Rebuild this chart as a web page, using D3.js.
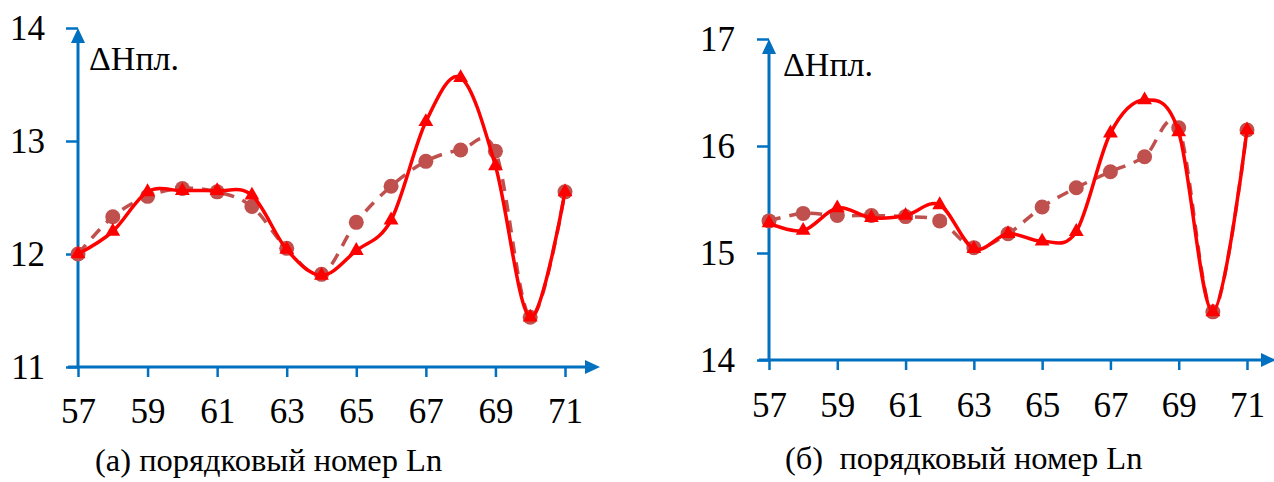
<!DOCTYPE html>
<html>
<head>
<meta charset="utf-8">
<script src="https://cdn.jsdelivr.net/npm/d3@7"></script>
<style>
  html, body { margin: 0; padding: 0; background: #fff; }
  svg { display: block; }
  text { font-family: "Liberation Serif", "Times New Roman", serif; fill: #000; }
</style>
</head>
<body>
<svg id="chart" width="1274" height="482"></svg>
<script>
// Sequence numbers Ln shared by both panels
const ln = [57, 58, 59, 60, 61, 62, 63, 64, 65, 66, 67, 68, 69, 70, 71];
const xTicks = [57, 59, 61, 63, 65, 67, 69, 71];

// Panel (a)
const aSolid  = [12.00, 12.20, 12.55, 12.56, 12.56, 12.52, 12.04, 11.81, 12.03, 12.30, 13.17, 13.56, 12.78, 11.44, 12.55];
const aDashed = [12.00, 12.33, 12.51, 12.58, 12.55, 12.42, 12.05, 11.82, 12.28, 12.60, 12.82, 12.92, 12.91, 11.44, 12.55];
const aTicks  = [11, 12, 13, 14];

// Panel (б)
const bSolid  = [15.28, 15.21, 15.42, 15.33, 15.35, 15.45, 15.04, 15.18, 15.11, 15.20, 16.12, 16.43, 16.13, 14.45, 16.15];
const bDashed = [15.30, 15.37, 15.35, 15.35, 15.34, 15.30, 15.05, 15.18, 15.43, 15.61, 15.76, 15.90, 16.17, 14.45, 16.15];
const bTicks  = [14, 15, 16, 17];

const svg = d3.select("#chart");
const AXIS = "#0070C0";
const SOLID = "#FF0000";
const DASH = "#C0504D";

function panel(cfg) {
  const x = d3.scaleLinear().domain([57, 71]).range(cfg.xRange);
  const y = d3.scaleLinear().domain(cfg.yDomain).range(cfg.yRange);
  const g = svg.append("g");
  const x0 = cfg.xRange[0], yBase = cfg.yRange[0], yTop = cfg.yRange[1];

  // y axis ticks and labels
  const ya = g.append("g").attr("transform", `translate(${x0},0)`)
    .call(d3.axisLeft(y).tickValues(cfg.yTicks).tickSize(12).tickPadding(cfg.yPad).tickFormat(d3.format("d")));
  ya.attr("font-family", null).attr("font-size", null);
  ya.select(".domain").remove();
  ya.selectAll(".tick line").attr("stroke", AXIS).attr("stroke-width", 2.5);
  ya.selectAll(".tick text").style("font-size", "35px").attr("dy", "0.34em").attr("fill", "#000");

  // x axis ticks and labels
  const xa = g.append("g").attr("transform", `translate(0,${yBase})`)
    .call(d3.axisBottom(x).tickValues(xTicks).tickSize(10).tickFormat(d3.format("d")));
  xa.attr("font-family", null).attr("font-size", null);
  xa.select(".domain").remove();
  xa.selectAll(".tick line").attr("stroke", AXIS).attr("stroke-width", 2.5);
  xa.selectAll(".tick text").style("font-size", "35px").attr("y", cfg.xBase).attr("dy", null).attr("fill", "#000");

  // axis lines with arrow heads
  g.append("line").attr("x1", x0).attr("x2", x0).attr("y1", yBase).attr("y2", yTop + 10)
    .attr("stroke", AXIS).attr("stroke-width", 3);
  g.append("path")
    .attr("d", `M${x0},${yTop} L${x0 - 7},${yTop + 15} L${x0 + 7},${yTop + 15} Z`)
    .attr("fill", AXIS);
  g.append("line").attr("x1", x0 - 10).attr("x2", cfg.arrowX - 10).attr("y1", yBase).attr("y2", yBase)
    .attr("stroke", AXIS).attr("stroke-width", 3);
  g.append("path")
    .attr("d", `M${cfg.arrowX},${yBase} L${cfg.arrowX - 15},${yBase - 7} L${cfg.arrowX - 15},${yBase + 7} Z`)
    .attr("fill", AXIS);

  const line = d3.line().x((d, i) => x(ln[i])).y(d => y(d)).curve(d3.curveCatmullRom.alpha(0));

  // dashed series with round markers
  g.append("path").datum(cfg.dashed).attr("d", line)
    .attr("fill", "none").attr("stroke", DASH).attr("stroke-width", 3.5)
    .attr("stroke-dasharray", "12,9");
  g.selectAll(".dot").data(cfg.dashed).enter().append("circle")
    .attr("cx", (d, i) => x(ln[i])).attr("cy", d => y(d)).attr("r", 7.5)
    .attr("fill", DASH);

  // solid series with triangle markers
  g.append("path").datum(cfg.solid).attr("d", line)
    .attr("fill", "none").attr("stroke", SOLID).attr("stroke-width", 3.5);
  const tri = d3.symbol().type(d3.symbolTriangle).size(95);
  g.selectAll(".tri").data(cfg.solid).enter().append("path")
    .attr("d", tri)
    .attr("transform", (d, i) => `translate(${x(ln[i])},${y(d)})`)
    .attr("fill", SOLID);

  // y label
  g.append("text").attr("x", cfg.yLabel[0]).attr("y", cfg.yLabel[1])
    .style("font-size", "34px")
    .text("ΔНпл.");

  // caption
  g.append("text").attr("x", cfg.caption[0]).attr("y", cfg.caption[1])
    .style("font-size", "32.5px").style("white-space", "pre")
    .text(cfg.captionText);
}

panel({
  xRange: [78, 565], yDomain: [11, 14], yRange: [367, 28], yTicks: aTicks,
  solid: aSolid, dashed: aDashed, arrowX: 600, yPad: 21, xBase: 56,
  yLabel: [89, 70], caption: [95, 471], captionText: "(а) порядковый номер Ln"
});

panel({
  xRange: [769, 1247], yDomain: [14, 17], yRange: [360, 39], yTicks: bTicks,
  solid: bSolid, dashed: bDashed, arrowX: 1276, yPad: 22, xBase: 57,
  yLabel: [783, 76], caption: [785, 469], captionText: "(б)  порядковый номер Ln"
});
</script>
</body>
</html>
